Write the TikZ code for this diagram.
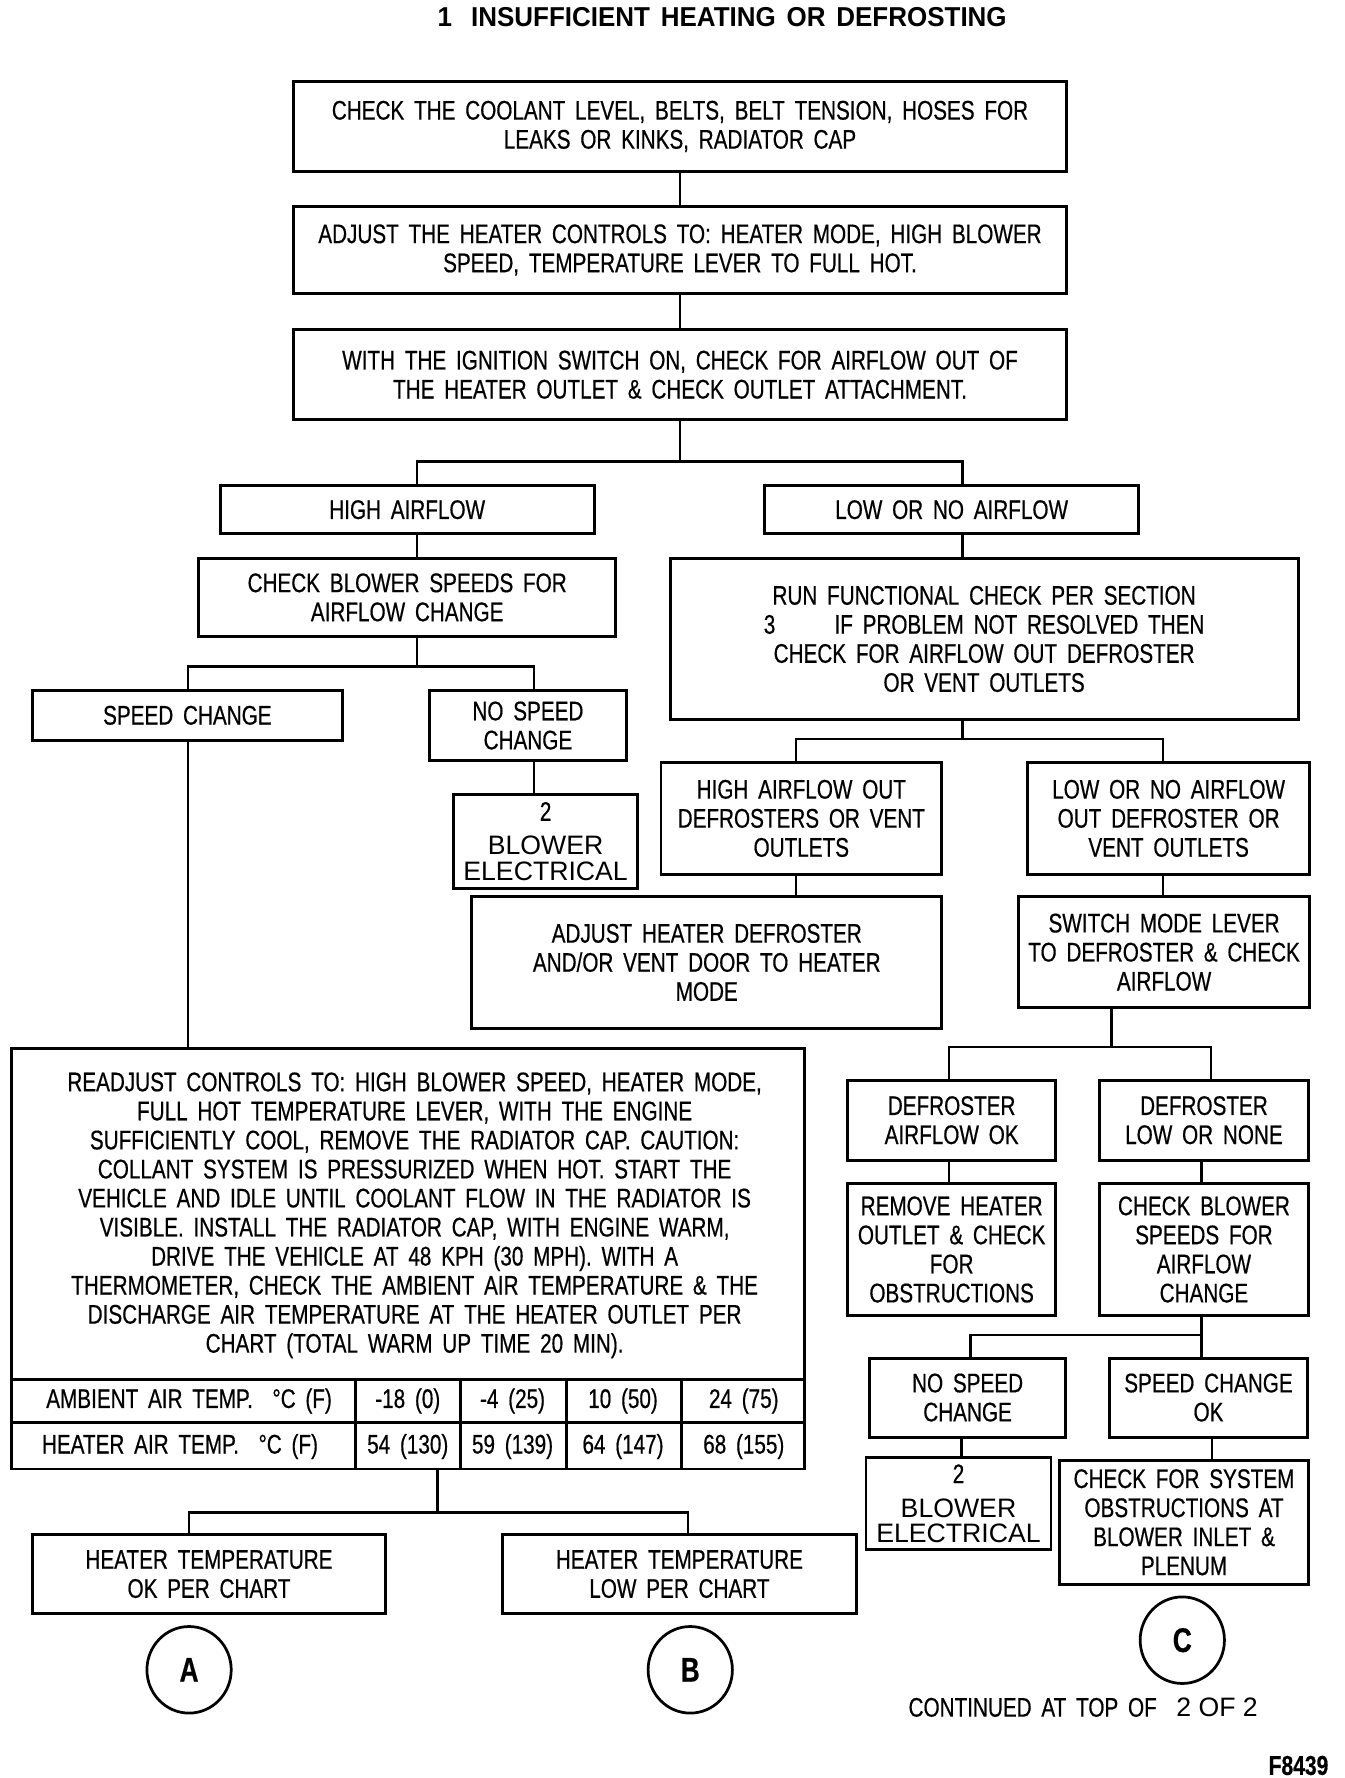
\documentclass[tikz,border=0pt]{standalone}
\usepackage{fontspec}
\setmainfont{Liberation Sans}[FakeStretch=0.77,WordSpace=1.7,FakeBold=0.5]
\newfontfamily\regfont{Liberation Sans}
\newfontfamily\titlefont{Liberation Sans}[FakeStretch=0.95,WordSpace=1.5]
\usetikzlibrary{shapes.geometric}
\tikzset{
  box/.style={draw, line width=1.3pt, inner sep=0pt, align=center, font=\fontsize{11.8}{12.75}\selectfont},
  conn/.style={line width=1.1pt},
  txt/.style={inner sep=0pt, align=center, font=\fontsize{11.8}{12.75}\selectfont},
  tline/.style={line width=1.3pt},
  blw/.style={box, font=\fontsize{11.7}{11}\selectfont},
  circ/.style={draw, ellipse, line width=1.2pt, minimum width=37pt, minimum height=38pt, inner sep=0pt, font=\fontsize{15}{15}\selectfont\bfseries},
}
\newcommand\mybox[7][box]{\node[#1, minimum width={(#5-#3)*0.5pt-1.3pt}, minimum height={(#6-#4)*0.5pt-1.3pt}, anchor=center] (#2) at ({(#3+#5)/2},{(#4+#6)/2}) {#7};}
\begin{document}
\begin{tikzpicture}[x=0.5pt,y=-0.5pt]
\fill[white] (0,0) rectangle (1180,1561);
\useasboundingbox (0,0) rectangle (1180,1561);

\node[txt, font=\titlefont\fontsize{12}{12}\selectfont\bfseries] (title) at (634,15) {1\hspace{0.7em}INSUFFICIENT HEATING OR DEFROSTING};

\mybox{b1}{256}{70}{938}{152}{CHECK THE COOLANT LEVEL, BELTS, BELT TENSION, HOSES FOR\\LEAKS OR KINKS, RADIATOR CAP}
\mybox{b2}{256}{180}{938}{259}{ADJUST THE HEATER CONTROLS TO: HEATER MODE, HIGH BLOWER\\SPEED, TEMPERATURE LEVER TO FULL HOT.}
\mybox{b3}{256}{288}{938}{370}{WITH THE IGNITION SWITCH ON, CHECK FOR AIRFLOW OUT OF\\THE HEATER OUTLET \& CHECK OUTLET ATTACHMENT.}
\mybox{ha}{192}{425}{523}{470}{HIGH AIRFLOW}
\mybox{la}{670}{425}{1001}{470}{LOW OR NO AIRFLOW}
\mybox{cb}{173}{489}{542}{560}{CHECK BLOWER SPEEDS FOR\\AIRFLOW CHANGE}
\mybox{rf}{587}{489}{1141}{633}{RUN FUNCTIONAL CHECK PER SECTION\\3\hspace{2.2em}IF PROBLEM NOT RESOLVED THEN\\CHECK FOR AIRFLOW OUT DEFROSTER\\OR VENT OUTLETS}
\mybox{sc}{27}{605}{302}{651}{SPEED CHANGE}
\mybox{nsc}{376}{605}{551}{669}{NO SPEED\\CHANGE}
\mybox[blw]{be1}{397}{696}{561}{781}{{\fontsize{11.8}{11}\rmfamily 2}\\[4pt]{\regfont BLOWER}\\{\regfont ELECTRICAL}}
\mybox{hao}{579}{668}{828}{769}{HIGH AIRFLOW OUT\\DEFROSTERS OR VENT\\OUTLETS}
\mybox{lao}{901}{668}{1151}{769}{LOW OR NO AIRFLOW\\OUT DEFROSTER OR\\VENT OUTLETS}
\mybox{ahd}{413}{786}{828}{904}{ADJUST HEATER DEFROSTER\\AND/OR VENT DOOR TO HEATER\\MODE}
\mybox{sml}{893}{786}{1151}{886}{SWITCH MODE LEVER\\TO DEFROSTER \& CHECK\\AIRFLOW}
\mybox{big}{9}{919}{708}{1291}{}
\mybox{dao}{743}{947}{928}{1020}{DEFROSTER\\AIRFLOW OK}
\mybox{dln}{964}{947}{1150}{1020}{DEFROSTER\\LOW OR NONE}
\mybox{rh}{743}{1038}{928}{1156}{REMOVE HEATER\\OUTLET \& CHECK\\FOR\\OBSTRUCTIONS}
\mybox{cbs}{964}{1038}{1150}{1156}{CHECK BLOWER\\SPEEDS FOR\\AIRFLOW\\CHANGE}
\mybox{nsc2}{762}{1191}{937}{1263}{NO SPEED\\CHANGE}
\mybox{sco}{973}{1191}{1149}{1263}{SPEED CHANGE\\OK}
\mybox[blw]{be2}{759}{1278}{924}{1362}{{\fontsize{11.8}{11}\rmfamily 2}\\[4pt]{\regfont BLOWER}\\{\regfont ELECTRICAL}}
\mybox{cfs}{929}{1281}{1150}{1392}{CHECK FOR SYSTEM\\OBSTRUCTIONS AT\\BLOWER INLET \&\\PLENUM}
\mybox{hto}{27}{1346}{340}{1418}{HEATER TEMPERATURE\\OK PER CHART}
\mybox{htl}{440}{1346}{753}{1418}{HEATER TEMPERATURE\\LOW PER CHART}

% big box text and table
\node[txt] (bigtxt) at (364,1067) {READJUST CONTROLS TO: HIGH BLOWER SPEED, HEATER MODE,\\FULL HOT TEMPERATURE LEVER, WITH THE ENGINE\\SUFFICIENTLY COOL, REMOVE THE RADIATOR CAP. CAUTION:\\COLLANT SYSTEM IS PRESSURIZED WHEN HOT. START THE\\VEHICLE AND IDLE UNTIL COOLANT FLOW IN THE RADIATOR IS\\VISIBLE. INSTALL THE RADIATOR CAP, WITH ENGINE WARM,\\DRIVE THE VEHICLE AT 48 KPH (30 MPH). WITH A\\THERMOMETER, CHECK THE AMBIENT AIR TEMPERATURE \& THE\\DISCHARGE AIR TEMPERATURE AT THE HEATER OUTLET PER\\CHART (TOTAL WARM UP TIME 20 MIN).};
\draw[tline] (9,1211) -- (708,1211);
\draw[tline] (9,1249) -- (708,1249);
\foreach \cx in {312,404,497,598} \draw[tline] (\cx,1211) -- (\cx,1291);
\node[txt] (r1c1) at (166,1230) {AMBIENT AIR TEMP.\ \ °C (F)};
\node[txt] (r1c2) at (358,1230) {-18 (0)};
\node[txt] (r1c3) at (450,1230) {-4 (25)};
\node[txt] (r1c4) at (547,1230) {10 (50)};
\node[txt] (r1c5) at (653,1230) {24 (75)};
\node[txt] (r2c1) at (158,1270) {HEATER AIR TEMP.\ \ °C (F)};
\node[txt] (r2c2) at (358,1270) {54 (130)};
\node[txt] (r2c3) at (450,1270) {59 (139)};
\node[txt] (r2c4) at (547,1270) {64 (147)};
\node[txt] (r2c5) at (653,1270) {68 (155)};

% circles
\node[circ] (cA) at (166,1466) {A};
\node[circ] (cB) at (606,1466) {B};
\node[circ] (cC) at (1038,1440) {C};

\node[txt] (cont) at (951,1499) {CONTINUED AT TOP OF\ \ {\regfont\fontsize{11.7}{12}\selectfont 2 OF 2}};
\node[txt, font=\fontsize{12}{12}\selectfont\bfseries] (fig) at (1140,1550) {F8439};

% connector x positions
\coordinate (c366) at (366,0);
\coordinate (c845) at (845,0);
\coordinate (c469) at (469,0);
\coordinate (c699) at (699,0);
\coordinate (c1021) at (1021,0);
\coordinate (c976) at (976,0);
\coordinate (c833) at (833,0);
\coordinate (c1063) at (1063,0);
\coordinate (c1055) at (1055,0);
\coordinate (c852) at (852,0);
\coordinate (c844) at (844,0);
\coordinate (c1064) at (1064,0);
\coordinate (c384) at (384,0);
\coordinate (c166) at (166,0);
\coordinate (c604) at (604,0);
\coordinate (c165) at (165,0);
% junctions
\coordinate (j1) at (597,405);
\coordinate (j2) at (366,585);
\coordinate (j3) at (845,649);
\coordinate (j4) at (976,919);
\coordinate (j5) at (1055,1172);
\coordinate (j6) at (384,1328);

\draw[conn] (b1.south) -- (b2.north);
\draw[conn] (b2.south) -- (b3.north);
\draw[conn] (b3.south) -- (j1);
\draw[conn] (ha.north -| c366) |- (j1) -| (la.north -| c845);
\draw[conn] (ha.south -| c366) -- (cb.north -| c366);
\draw[conn] (la.south -| c845) -- (rf.north -| c845);
\draw[conn] (cb.south -| c366) -- (j2);
\draw[conn] (sc.north -| c165) |- (j2) -| (nsc.north -| c469);
\draw[conn] (nsc.south -| c469) -- (be1.north -| c469);
\draw[conn] (rf.south -| c845) -- (j3);
\draw[conn] (hao.north -| c699) |- (j3) -| (lao.north -| c1021);
\draw[conn] (hao.south -| c699) -- (ahd.north -| c699);
\draw[conn] (lao.south -| c1021) -- (sml.north -| c1021);
\draw[conn] (sc.south -| c165) -- (big.north -| c165);
\draw[conn] (sml.south -| c976) -- (j4);
\draw[conn] (dao.north -| c833) |- (j4) -| (dln.north -| c1063);
\draw[conn] (dao.south -| c833) -- (rh.north -| c833);
\draw[conn] (dln.south -| c1055) -- (cbs.north -| c1055);
\draw[conn] (cbs.south -| c1055) -- (sco.north -| c1055);
\draw[conn] (nsc2.north -| c852) |- (j5);
\draw[conn] (nsc2.south -| c844) -- (be2.north -| c844);
\draw[conn] (sco.south -| c1064) -- (cfs.north -| c1064);
\draw[conn] (big.south -| c384) -- (j6);
\draw[conn] (hto.north -| c166) |- (j6) -| (htl.north -| c604);
\end{tikzpicture}
\end{document}
